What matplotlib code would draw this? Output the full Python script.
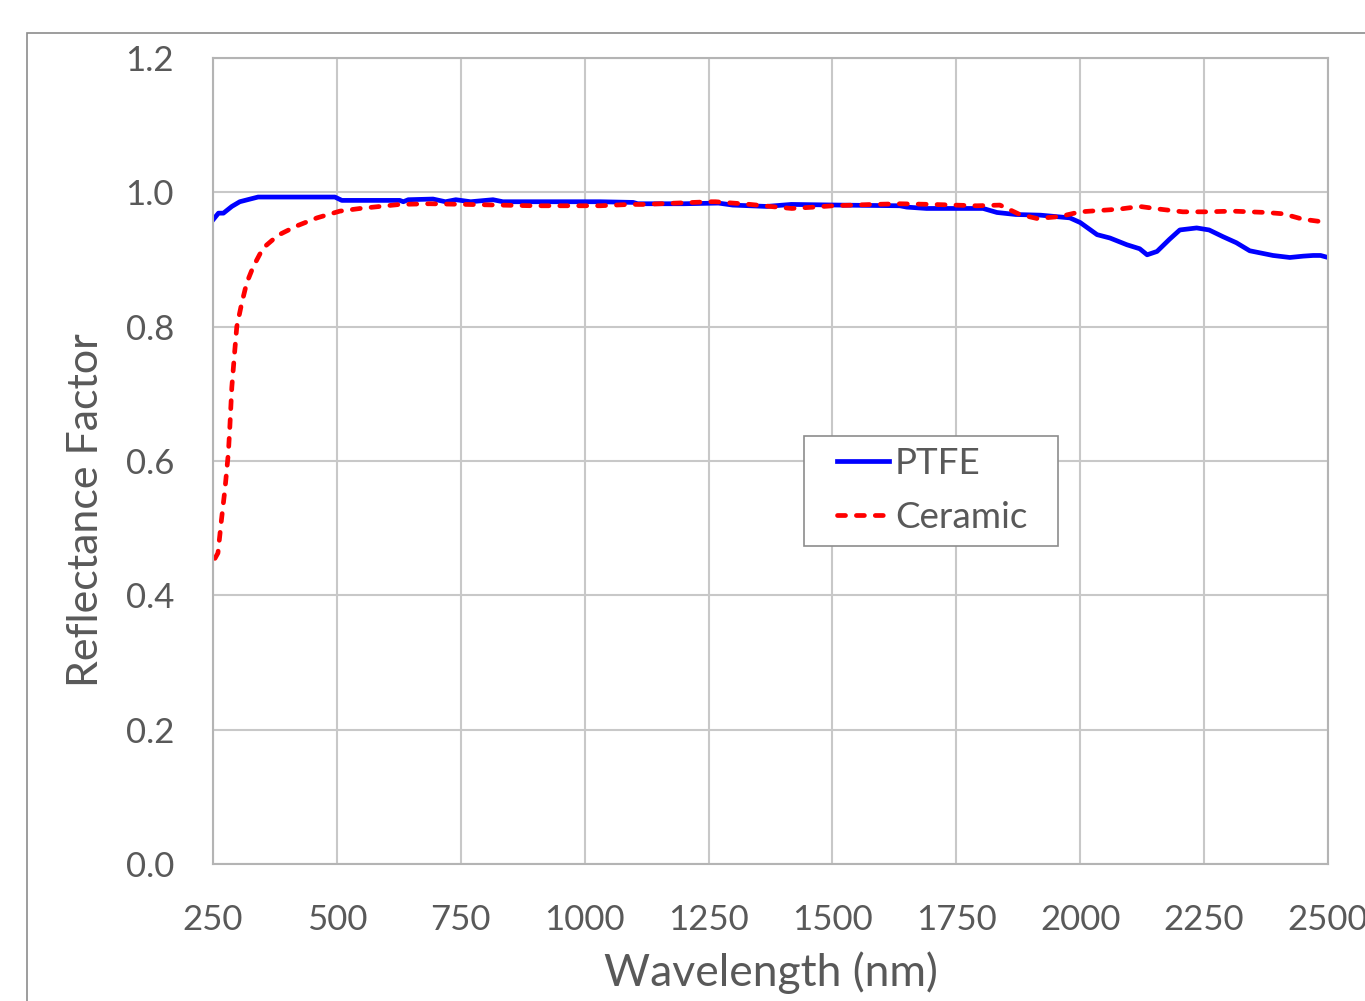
import matplotlib
matplotlib.use('Agg')
import matplotlib.pyplot as plt
from matplotlib.patches import Rectangle

plt.rcParams['font.family'] = ['Lato', 'DejaVu Sans']

# PTFE reflectance
ptfe_wl = [250, 261, 271, 288, 304, 325, 341, 420, 496, 510, 627, 634, 644, 694, 719,
           740, 770, 815, 835, 900, 1031, 1098, 1107, 1200, 1270, 1299, 1367, 1417,
           1515, 1636, 1650, 1690, 1804, 1832, 1870, 1920, 1979, 2000, 2034, 2060,
           2094, 2120, 2135, 2155, 2180, 2201, 2235, 2260, 2288, 2315, 2342, 2389,
           2423, 2450, 2470, 2485, 2500]
ptfe_r = [0.959, 0.969, 0.969, 0.979, 0.986, 0.990, 0.993, 0.993, 0.993, 0.988, 0.988,
          0.986, 0.989, 0.990, 0.986, 0.989, 0.986, 0.989, 0.986, 0.986, 0.986, 0.985,
          0.983, 0.983, 0.984, 0.981, 0.979, 0.982, 0.981, 0.980, 0.978, 0.976, 0.976,
          0.970, 0.967, 0.966, 0.962, 0.955, 0.937, 0.932, 0.922, 0.916, 0.907, 0.912,
          0.930, 0.944, 0.947, 0.944, 0.934, 0.925, 0.913, 0.906, 0.903, 0.905, 0.906,
          0.906, 0.903]

# Ceramic reflectance
cer_wl = [254, 260, 267, 274, 281, 284, 288, 294, 298, 308, 318, 331, 351, 381, 419,
          460, 506, 547, 627, 687, 762, 896, 1031, 1091, 1118, 1253, 1264, 1334, 1374,
          1418, 1463, 1501, 1582, 1636, 1703, 1791, 1838, 1878, 1913, 1959, 2000,
          2040, 2079, 2120, 2160, 2207, 2254, 2308, 2376, 2410, 2449, 2500]
cer_r = [0.455, 0.463, 0.512, 0.557, 0.612, 0.651, 0.710, 0.765, 0.800, 0.835, 0.865,
         0.889, 0.917, 0.936, 0.950, 0.962, 0.972, 0.976, 0.982, 0.983, 0.982, 0.980,
         0.980, 0.982, 0.982, 0.986, 0.986, 0.982, 0.979, 0.976, 0.978, 0.980, 0.982,
         0.983, 0.982, 0.980, 0.981, 0.967, 0.961, 0.964, 0.971, 0.973, 0.975, 0.979,
         0.975, 0.971, 0.971, 0.972, 0.970, 0.968, 0.960, 0.955]

x_ticks = [250, 500, 750, 1000, 1250, 1500, 1750, 2000, 2250, 2500]
y_ticks = [0.0, 0.2, 0.4, 0.6, 0.8, 1.0, 1.2]

text_color = "#595959"
grid_color = "#c8c8c8"

fig = plt.figure(figsize=(13.65, 10.01), dpi=100)
ax = fig.add_axes([213 / 1365, 1 - 864 / 1001, 1115 / 1365, 806 / 1001])

# outer chart frame (runs off the right and bottom edges)
fig.patches.append(Rectangle((27 / 1365, -0.05), 1.2, 1 - 33 / 1001 + 0.05,
                             transform=fig.transFigure, fill=False,
                             edgecolor="#8c8c8c", linewidth=1.2))

ax.plot(ptfe_wl, ptfe_r, color="#0000ff", linewidth=3.4, label="PTFE")
ax.plot(cer_wl, cer_r, color="#ff0000", linewidth=3.4, linestyle=(0, (1.7, 2.3)),
        dash_capstyle="round", label="Ceramic")

ax.set_xlim(250, 2500)
ax.set_ylim(0, 1.2)
ax.set_xticks(x_ticks)
ax.set_yticks(y_ticks)
ax.set_yticklabels([f"{v:.1f}" for v in y_ticks])
ax.grid(True, color=grid_color, linewidth=1.5)
ax.set_axisbelow(True)
ax.tick_params(length=0, labelsize=25, colors=text_color)
ax.tick_params(axis='y', pad=28)
ax.tick_params(axis='x', pad=29)
for s in ax.spines.values():
    s.set_color("#b4b4b4")
    s.set_linewidth(1.5)

ax.set_xlabel("Wavelength (nm)", fontsize=32, color=text_color, labelpad=11)
ax.set_ylabel("Reflectance Factor", fontsize=31, color=text_color)
ax.yaxis.set_label_coords(-0.097, 0.439)

# legend box drawn separately so its padding can match the original
ax.add_patch(Rectangle((0.530, 0.3945), 0.2278, 0.1365, transform=ax.transAxes,
                       facecolor="white", edgecolor="#8c8c8c", linewidth=1.2,
                       zorder=4))
leg = ax.legend(loc="center", bbox_to_anchor=(0.645, 0.463), borderaxespad=0,
                frameon=False, fontsize=26.5, handlelength=1.41,
                handletextpad=0.16, borderpad=0, labelspacing=0.57,
                labelcolor=text_color)
leg.set_zorder(5)

plt.savefig("out.png", dpi=100)
plt.close()
